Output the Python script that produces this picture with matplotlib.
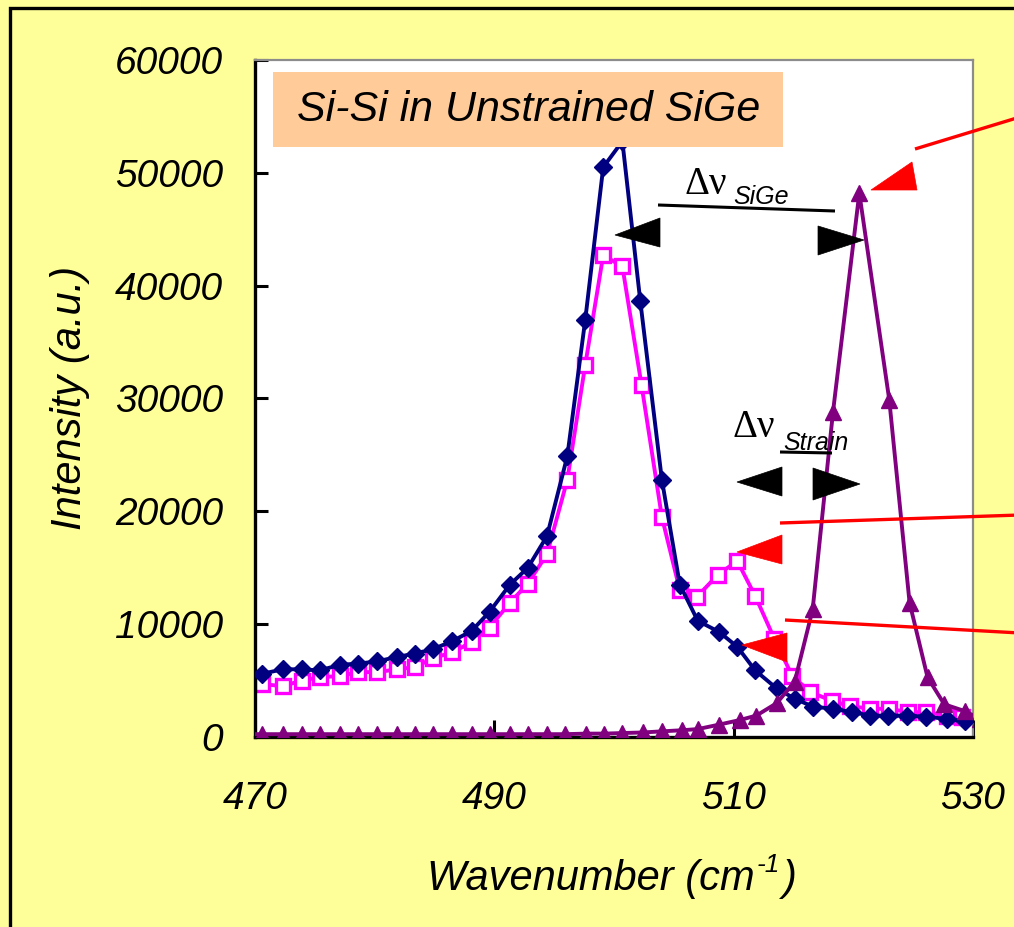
import matplotlib
matplotlib.use("Agg")
import matplotlib.pyplot as plt
from matplotlib.patches import Rectangle, Polygon
from matplotlib.lines import Line2D

# Raman spectra: wavenumber (cm^-1) and intensity (a.u.)
sige_x = [469.0, 470.6, 472.3, 473.9, 475.4, 477.1, 478.6, 480.2, 481.9, 483.4,
          484.9, 486.5, 488.1, 489.6, 491.3, 492.8, 494.4, 496.1, 497.6, 499.1,
          500.7, 502.2, 504.0, 505.5, 507.0, 508.8, 510.3, 511.8, 513.6, 515.1,
          516.6, 518.3, 519.9, 521.4, 522.9, 524.5, 526.1, 527.8, 529.3]
sige_y = [5500, 5600, 6000, 6000, 5900, 6400, 6500, 6700, 7100, 7400,
          7800, 8500, 9400, 11100, 13500, 15000, 17800, 24900, 37000, 50500,
          52800, 38600, 22800, 13500, 10300, 9300, 8000, 5900, 4300, 3400,
          2700, 2500, 2200, 1900, 1900, 1900, 1800, 1600, 1400]

strained_x = [469.0, 470.6, 472.3, 473.9, 475.4, 477.1, 478.6, 480.2, 481.9, 483.4,
              484.9, 486.5, 488.1, 489.6, 491.3, 492.8, 494.4, 496.1, 497.6, 499.1,
              500.7, 502.3, 504.0, 505.5, 506.9, 508.7, 510.3, 511.8, 513.4, 514.9,
              516.4, 518.2, 519.7, 521.4, 523.0, 524.6, 526.1, 527.8, 529.1]
strained_y = [4500, 4700, 4500, 5000, 5300, 5400, 5750, 5750, 6000, 6200,
              7000, 7500, 8400, 9700, 11900, 13600, 16200, 22800, 33000, 42700,
              41700, 31200, 19500, 13000, 12400, 14400, 15600, 12500, 8700, 5400,
              4000, 3200, 2750, 2500, 2500, 2200, 2200, 1900, 1800]

si_x = [469.0, 470.6, 472.3, 473.9, 475.4, 477.1, 478.6, 480.2, 481.9, 483.4,
        484.9, 486.5, 488.1, 489.6, 491.3, 492.8, 494.4, 495.9, 497.7, 499.2,
        500.7, 502.4, 504.0, 505.7, 507.0, 508.8, 510.5, 511.9, 513.6, 515.1,
        516.6, 518.3, 520.5, 523.0, 524.7, 526.2, 527.6, 529.3, 530.6]
si_y = [250, 250, 250, 250, 250, 250, 250, 250, 250, 250,
        250, 250, 250, 250, 250, 250, 250, 250, 300, 300,
        350, 400, 500, 600, 700, 1100, 1500, 1900, 3000, 4900,
        11300, 28800, 48200, 29900, 11900, 5300, 2900, 2300, 1600]

x_ticks = [470, 490, 510, 530]
y_ticks = [0, 10000, 20000, 30000, 40000, 50000, 60000]

title_text = "Si-Si in Unstrained SiGe"
x_label_parts = ("Wavenumber (cm", "-1", ")")
y_label = "Intensity (a.u.)"

W, H, DPI = 1014, 927, 100
BG = "#FFFF99"

plt.rcParams["font.family"] = ["Liberation Sans", "DejaVu Sans"]
plt.rcParams["font.style"] = "italic"


def fx(px):
    return px / W


def fy(py):
    return 1 - py / H


fig = plt.figure(figsize=(W / DPI, H / DPI), dpi=DPI, facecolor=BG)
renderer = fig.canvas.get_renderer()

# outer frame of the panel
fig.add_artist(Rectangle((fx(10), fy(H + 20)), (W + 20) / W, (H + 12) / H,
                         transform=fig.transFigure, fill=False,
                         ec="black", lw=2.4))

ax = fig.add_axes([fx(255), fy(737), (973 - 255) / W, (737 - 60) / H])
ax.set_facecolor("white")

ax.plot(strained_x, strained_y, color="#FF00FF", lw=2.8, marker="s", ms=10,
        mfc="white", mec="#FF00FF", mew=2.4, zorder=2)
ax.plot(sige_x, sige_y, color="#000080", lw=2.8, marker="D", ms=9.5,
        zorder=3)
ax.plot(si_x, si_y, color="#800080", lw=2.8, marker="^", ms=11, zorder=4)

ax.set_xlim(470, 530)
ax.set_ylim(0, 60000)
ax.set_xticks(x_ticks, labels=[str(t) for t in x_ticks])
ax.set_yticks(y_ticks, labels=[str(t) for t in y_ticks])
ax.tick_params(axis="both", direction="in", width=2.2, labelsize=28,
               top=False, right=False, colors="black")
ax.tick_params(axis="y", length=9, pad=23)
ax.tick_params(axis="x", length=12, pad=32)

for side in ("left", "bottom"):
    ax.spines[side].set_color("black")
    ax.spines[side].set_linewidth(2.4)
for side in ("top", "right"):
    ax.spines[side].set_color("#8C8C8C")
    ax.spines[side].set_linewidth(1.6)

fig.text(fx(70), fy(398), y_label, fontsize=30, rotation=90,
         ha="center", va="center", rotation_mode="anchor")

# x label with a superscript exponent, laid out piece by piece
main_txt = fig.text(0, fy(890), x_label_parts[0], fontsize=30,
                    va="baseline")
sup_txt = fig.text(0, fy(872), x_label_parts[1], fontsize=19, va="baseline")
end_txt = fig.text(0, fy(890), x_label_parts[2], fontsize=30, va="baseline")
w_main = main_txt.get_window_extent(renderer).width
w_sup = sup_txt.get_window_extent(renderer).width
w_end = end_txt.get_window_extent(renderer).width
x0 = 611 - (w_main + w_sup + w_end + 4) / 2
main_txt.set_x(fx(x0))
sup_txt.set_x(fx(x0 + w_main + 2))
end_txt.set_x(fx(x0 + w_main + w_sup + 4))

# title box
fig.add_artist(Rectangle((fx(273), fy(147)), (783 - 273) / W, (147 - 72) / H,
                         transform=fig.transFigure, fc="#FFCC99", ec="none",
                         zorder=5))
fig.text(fx(529), fy(110), title_text, fontsize=31, ha="center",
         va="center", zorder=6)


def tri(points, color):
    fig.add_artist(Polygon([(fx(a), fy(b)) for a, b in points], closed=True,
                           transform=fig.transFigure, fc=color, ec=color,
                           lw=0.5, zorder=7))


def seg(p0, p1, color, lw):
    fig.add_artist(Line2D([fx(p0[0]), fx(p1[0])], [fy(p0[1]), fy(p1[1])],
                          transform=fig.transFigure, color=color, lw=lw,
                          zorder=7, solid_capstyle="butt"))


# shift markers: Δν SiGe
seg((658, 205), (835, 211), "black", 2.2)
tri([(615, 235), (660, 218), (660, 247)], "black")
tri([(818, 226), (818, 255), (864, 240)], "black")
fig.text(fx(684), fy(194), "Δν", family="Liberation Serif", style="normal",
         fontsize=28, va="baseline", zorder=8)
fig.text(fx(733), fy(204), "SiGe", fontsize=18, va="baseline", zorder=8)

# shift markers: Δν Strain
seg((780, 452), (832, 453), "black", 2.2)
tri([(737, 482), (782, 467), (782, 496)], "black")
tri([(813, 468), (813, 500), (860, 484)], "black")
fig.text(fx(732), fy(437), "Δν", family="Liberation Serif", style="normal",
         fontsize=28, va="baseline", zorder=8)
fig.text(fx(783), fy(450), "Strain", fontsize=18, va="baseline", zorder=8)

# red pointers
seg((915, 149), (1020, 117), "#FF0000", 2.4)
tri([(871, 190), (912, 162), (917, 190)], "#FF0000")
seg((780, 523), (1020, 515), "#FF0000", 2.4)
tri([(737, 552), (782, 535), (782, 564)], "#FF0000")
seg((785, 620), (1020, 633), "#FF0000", 2.4)
tri([(742, 645), (787, 633), (787, 662)], "#FF0000")

fig.savefig("out.png", dpi=DPI, facecolor=BG)
